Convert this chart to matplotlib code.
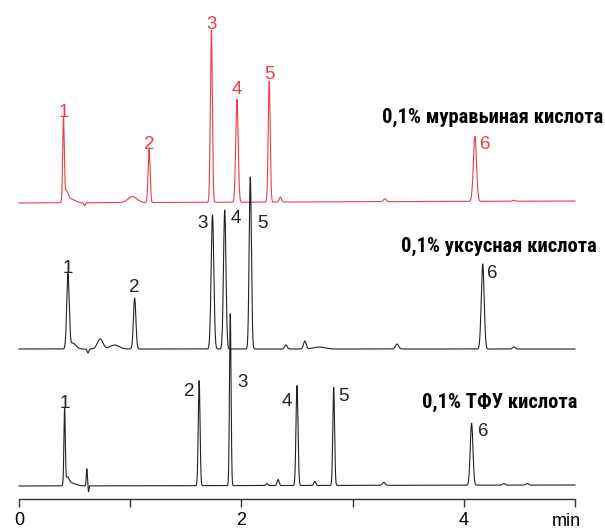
import numpy as np
import matplotlib
matplotlib.use("Agg")
import matplotlib.pyplot as plt

plt.rcParams['font.family'] = ['Liberation Sans', 'DejaVu Sans']

# peaks: (retention time, min; height; sigma, min)
formic_peaks = [(0.40, 82, 0.007), (0.425, 10, 0.015), (0.46, 4, 0.04), (0.59, -3, 0.007),
                (1.02, 6, 0.04), (1.17, 53, 0.009), (1.73, 172, 0.009), (1.96, 103, 0.011),
                (2.25, 121, 0.009), (2.35, 5, 0.01), (3.29, 3, 0.012), (4.10, 65, 0.014),
                (4.45, 1, 0.012)]
formic_labels = ['1', '2', '3', '4', '5', '6']
formic_main = [0, 5, 6, 7, 8, 11]
formic_drift = (0, 2)

acetic_peaks = [(0.44, 73, 0.011), (0.48, 6, 0.03), (0.62, -4, 0.007), (0.73, 10, 0.025),
                (0.86, 4, 0.04), (1.04, 51, 0.011), (1.74, 134, 0.012), (1.85, 139, 0.011),
                (2.08, 172, 0.010), (2.40, 4, 0.012), (2.57, 8, 0.012), (2.70, 2, 0.05),
                (3.40, 5, 0.014), (4.17, 85, 0.013), (4.45, 2, 0.012)]
acetic_labels = ['1', '2', '3', '4', '5', '6']
acetic_main = [0, 5, 6, 7, 8, 13]
acetic_drift = (0, 0)

tfa_peaks = [(0.41, 75, 0.006), (0.435, 7, 0.015), (0.47, 3, 0.04), (0.61, 17, 0.005),
             (0.625, -6, 0.004), (1.62, 105, 0.008), (1.90, 172, 0.007), (2.23, 2, 0.008),
             (2.33, 6, 0.009), (2.50, 100, 0.009), (2.66, 4, 0.009), (2.83, 98, 0.008),
             (3.28, 3, 0.012), (4.07, 62, 0.012), (4.36, 1.5, 0.012), (4.57, 1.5, 0.012)]
tfa_labels = ['1', '2', '3', '4', '5', '6']
tfa_main = [0, 5, 6, 9, 11, 13]
tfa_drift = (0, 1)

titles = ['0,1% муравьиная кислота', '0,1% уксусная кислота', '0,1% ТФУ кислота']

RED = '#ee3d47'
DARK = '#222222'


def trace(t, peaks, drift):
    y = np.interp(t, [0, 5], drift)
    for rt, h, s in peaks:
        y = y + h * np.exp(-0.5 * ((t - rt) / s) ** 2)
    return y


fig = plt.figure(figsize=(6.05, 5.29), dpi=100)
ax = fig.add_axes([19 / 605, 30 / 529, 556 / 605, 499 / 529])
ax.set_xlim(0, 5)
ax.set_ylim(0, 499)

t = np.linspace(0, 5, 8000)

# (peaks, drift, offset, color, label ids, label texts, label placement, title x/y)
runs = [
    (formic_peaks, formic_drift, 296, RED, formic_main, formic_labels,
     [(0, 4, 'center', 'baseline'), (0, 1, 'center', 'baseline'), (0, 1, 'center', 'baseline'),
      (0, 5, 'center', 'baseline'), (0, 2, 'center', 'baseline'), (5, 0, 'left', 'top')],
     (5.25, 376)),
    (acetic_peaks, acetic_drift, 150, DARK, acetic_main, acetic_labels,
     [(0, 3, 'center', 'baseline'), (0, 6, 'center', 'baseline'), (-5, 0, 'right', 'top'),
      (6, 0, 'left', 'top'), (7, -38, 'left', 'top'), (4, -1, 'left', 'top')],
     (5.196, 247)),
    (tfa_peaks, tfa_drift, 13, DARK, tfa_main, tfa_labels,
     [(0, 3, 'center', 'baseline'), (-5, -2, 'right', 'top'), (7, -60, 'left', 'top'),
      (-5, -8, 'right', 'top'), (5, -1, 'left', 'top'), (6, 0, 'left', 'top')],
     (5.018, 91)),
]

for (peaks, drift, off, col, main, labs, place, tpos), title in zip(runs, titles):
    ax.plot(t, trace(t, peaks, drift) + off, color=col, lw=0.8, clip_on=False)
    for i, lab, (dx, dy, ha, va) in zip(main, labs, place):
        rt, h, s = peaks[i]
        ax.annotate(lab, xy=(rt, off + h + np.interp(rt, [0, 5], drift)),
                    xytext=(dx, dy), textcoords='offset pixels',
                    ha=ha, va=va, fontsize=13.5, color=col)
    ax.text(tpos[0], tpos[1], title, ha='right', va='baseline', fontsize=14.8,
            fontweight='bold', family=['Roboto Condensed', 'DejaVu Sans'],
            color='black', clip_on=False)

for side in ['top', 'right', 'left']:
    ax.spines[side].set_visible(False)
ax.spines['bottom'].set_color('#333333')
ax.spines['bottom'].set_linewidth(1.0)
ax.set_yticks([])
ax.set_xticks([0, 1, 2, 3, 4, 5])
ax.set_xticklabels(['0', '', '2', '', '4', ''])
ax.tick_params(axis='x', direction='out', length=5.5, width=1.0, color='#333333',
               labelsize=13, pad=4)
ax.text(5.05, -14, 'min', ha='right', va='top', fontsize=13, clip_on=False)

fig.savefig('out.png', dpi=100)
